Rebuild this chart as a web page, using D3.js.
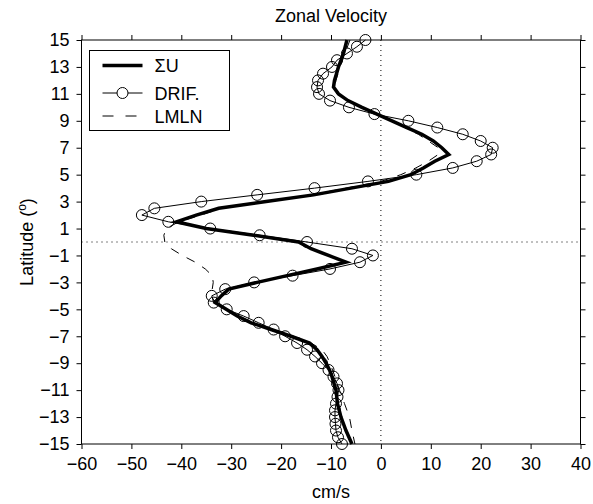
<!DOCTYPE html>
<html>
<head>
<meta charset="utf-8">
<title>Zonal Velocity</title>
<style>
  body { margin: 0; background: #fff; }
  svg { font-family: "Liberation Sans", Arial, sans-serif; }
</style>
</head>
<body>
<svg width="593" height="504"></svg>
<script src="https://cdn.jsdelivr.net/npm/d3@7"></script>
<script>
// latitude ticks and cm/s ticks
var xTicks = [-60, -50, -40, -30, -20, -10, 0, 10, 20, 30, 40];
var yTicks = [-15, -13, -11, -9, -7, -5, -3, -1, 1, 3, 5, 7, 9, 11, 13, 15];

// DRIF. (circles), every half degree from 15N to 15S
var driftLat = [15, 14.5, 14, 13.5, 13, 12.5, 12, 11.5, 11, 10.5, 10, 9.5, 9, 8.5, 8, 7.5, 7, 6.5, 6, 5.5,
  5, 4.5, 4, 3.5, 3, 2.5, 2, 1.5, 1, 0.5, 0, -0.5, -1, -1.5, -2, -2.5, -3, -3.5, -4, -4.5,
  -5, -5.5, -6, -6.5, -7, -7.5, -8, -8.5, -9, -9.5, -10, -10.5, -11, -11.5, -12, -12.5, -13, -13.5, -14, -14.5, -15];
var driftU = [-3.1, -4.8, -6.8, -8.8, -9.8, -11.6, -12.6, -12.8, -12.4, -10.2, -6.4, -1.3, 5.5, 11.3, 16.4, 20.0, 22.4, 22.1, 19.2, 14.4,
  7.1, -2.6, -13.3, -24.8, -36, -45.4, -47.9, -42.6, -34.2, -24.3, -14.8, -5.8, -1.6, -4.2, -10.2, -17.7, -25.4, -31.2, -33.9, -33.5,
  -30.9, -27.5, -24.5, -21.5, -19.2, -16.8, -14.8, -13.2, -11.8, -10.5, -9.5, -8.8, -8.5, -8.7, -9.0, -9.2, -9.2, -9.1, -9.0, -8.6, -7.8];

// sum U (thick line)
var sumLat = [15, 14, 13, 12, 11.5, 11, 10.5, 10, 9.5, 9, 8.5, 8, 7.5, 7, 6.5, 6, 5.5, 5, 4.5, 4, 3.5, 3, 2.5, 2, 1.5, 1, 0.5, 0,
  -0.5, -1, -1.5, -2, -2.5, -3, -3.5, -4, -4.5, -5, -5.5, -6, -6.5, -7, -7.5, -8, -8.5, -9, -9.5, -10, -11, -12, -13, -14, -15];
var sumU = [-6.8, -7.5, -8.5, -9.3, -9.5, -8.5, -6.6, -3.8, -0.8, 2.2, 5.2, 8.2, 10.5, 12.2, 13.6, 10.8, 8.5, 6.0, 1.5, -6, -13.5, -23, -32.5, -37, -41, -35, -25.5, -16.5,
  -14, -10.5, -7, -12.8, -18.8, -24.8, -30.5, -32, -33.2, -31, -28.8, -26, -22, -18, -14.3, -12.8, -11.8, -11, -10.3, -9.8, -9.0, -8.7, -8.0, -7.0, -5.8];

// LMLN (dashed)
var lmlnLat = [15, 14, 13, 12, 11.5, 11, 10.5, 10, 9, 8, 7, 6.5, 6, 5.5, 5, 4.5, 4, 3.5, 3, 2.5, 2, 1.5, 1, 0.5, 0,
  -0.5, -1, -1.5, -2, -2.5, -3, -3.5, -4, -4.5, -5, -5.5, -6, -6.5, -7, -7.5, -8, -8.5, -9, -10, -11, -12, -13, -14, -15];
var lmlnU = [-6.2, -7.2, -8.2, -9.0, -9.3, -8.8, -6.8, -4, 2, 7.5, 11.5, 11.5, 9.5, 7, 4, 0, -7, -14, -23, -32, -36, -40.5, -43, -43.5, -43.3,
  -42, -39.8, -37.2, -35.2, -33.8, -33.6, -33.8, -34, -33.2, -30.8, -28.5, -25.5, -21.5, -17.5, -14, -11.8, -10.8, -10.2, -9.2, -8.3, -7.3, -6.3, -5.8, -5.2];

var svg = d3.select("svg");
var x = d3.scaleLinear().domain([-60, 40]).range([81.5, 580.5]);
var y = d3.scaleLinear().domain([-15, 15]).range([444, 40]);
var fs = 18;
var minus = function(d) { return d < 0 ? "\u2212" + Math.abs(d) : "" + d; };

// dotted zero lines
svg.append("line").attr("x1", x(0)).attr("x2", x(0)).attr("y1", y(15)).attr("y2", y(-15))
  .attr("stroke", "#000").attr("stroke-dasharray", "1,4");
svg.append("line").attr("x1", x(-60)).attr("x2", x(40)).attr("y1", y(0)).attr("y2", y(0))
  .attr("stroke", "#000").attr("stroke-dasharray", "1,4");

// axes, ticks pointing out on all four sides
function styleAxis(g) {
  g.select(".domain").remove();
  g.selectAll(".tick line").attr("stroke", "#000");
  g.selectAll("text").attr("font-size", fs).attr("fill", "#000").attr("font-family", "Liberation Sans, Arial, sans-serif");
}
svg.append("g").attr("transform", "translate(0," + y(-15) + ")")
  .call(d3.axisBottom(x).tickValues(xTicks).tickSize(5).tickPadding(8).tickFormat(minus)).call(styleAxis);
svg.append("g").attr("transform", "translate(0," + y(15) + ")")
  .call(d3.axisTop(x).tickValues(xTicks).tickSize(5).tickFormat("")).call(styleAxis);
svg.append("g").attr("transform", "translate(" + x(-60) + ",0)")
  .call(d3.axisLeft(y).tickValues(yTicks).tickSize(5).tickPadding(7).tickFormat(minus)).call(styleAxis);
svg.append("g").attr("transform", "translate(" + x(40) + ",0)")
  .call(d3.axisRight(y).tickValues(yTicks).tickSize(5).tickFormat("")).call(styleAxis);

svg.append("rect").attr("x", x(-60)).attr("y", y(15)).attr("width", x(40) - x(-60)).attr("height", y(-15) - y(15))
  .attr("fill", "none").attr("stroke", "#000");

var line = d3.line().x(function(d) { return x(d[1]); }).y(function(d) { return y(d[0]); });

var drift = d3.zip(driftLat, driftU);
svg.append("path").datum(drift).attr("d", line).attr("fill", "none").attr("stroke", "#000").attr("stroke-width", 1);
svg.append("g").selectAll("circle").data(drift).enter().append("circle")
  .attr("cx", function(d) { return x(d[1]); }).attr("cy", function(d) { return y(d[0]); })
  .attr("r", 5.5).attr("fill", "none").attr("stroke", "#000").attr("stroke-width", 1);

svg.append("path").datum(d3.zip(lmlnLat, lmlnU)).attr("d", line).attr("fill", "none")
  .attr("stroke", "#000").attr("stroke-width", 1).attr("stroke-dasharray", "9,9");

svg.append("path").datum(d3.zip(sumLat, sumU)).attr("d", line).attr("fill", "none")
  .attr("stroke", "#000").attr("stroke-width", 3.5).attr("stroke-linejoin", "miter");

// labels
svg.append("text").attr("x", x(-10)).attr("y", 22).attr("text-anchor", "middle").attr("font-size", fs).text("Zonal Velocity");
svg.append("text").attr("x", x(-10)).attr("y", 498).attr("text-anchor", "middle").attr("font-size", fs).text("cm/s");
var yl = svg.append("text").attr("transform", "translate(33," + y(0) + ") rotate(-90)")
  .attr("text-anchor", "middle").attr("font-size", fs);
yl.append("tspan").text("Latitude (");
yl.append("tspan").attr("font-size", 12).attr("dy", -7).text("o");
yl.append("tspan").attr("dy", 7).text(")");

// legend
var lg = svg.append("g").attr("transform", "translate(89.5,50.5)");
lg.append("rect").attr("width", 140).attr("height", 80).attr("fill", "#fff").attr("stroke", "#000");
var rows = [{name: "\u03a3U", w: 3.5, dash: null, mark: false, yy: 15},
            {name: "DRIF.", w: 1, dash: null, mark: true, yy: 42.5},
            {name: "LMLN", w: 1, dash: "11,12", mark: false, yy: 65.5}];
rows.forEach(function(r) {
  lg.append("line").attr("x1", 13).attr("x2", 53).attr("y1", r.yy).attr("y2", r.yy)
    .attr("stroke", "#000").attr("stroke-width", r.w).attr("stroke-dasharray", r.dash);
  if (r.mark) lg.append("circle").attr("cx", 33).attr("cy", r.yy).attr("r", 5.5).attr("fill", "#fff").attr("stroke", "#000");
  lg.append("text").attr("x", 65).attr("y", r.yy + 6.5).attr("font-size", fs).text(r.name);
});
</script>
</body>
</html>
